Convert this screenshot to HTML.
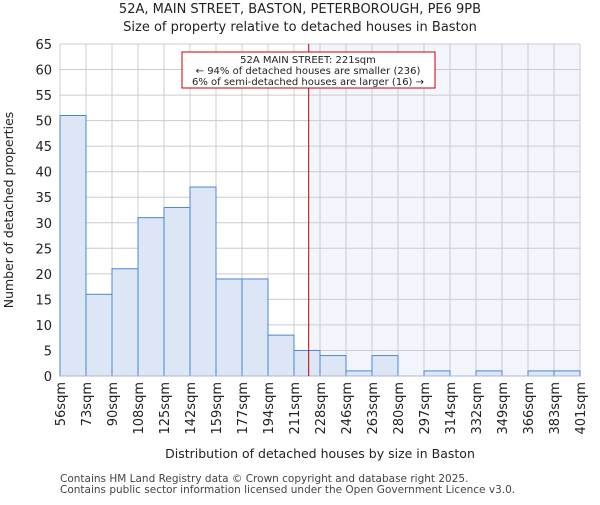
<!DOCTYPE html>
<html><head><meta charset="utf-8"><style>body{margin:0;background:#fff}svg{font-family:"DejaVu Sans","Liberation Sans",sans-serif}</style></head>
<body>
<svg width="600" height="500" xmlns="http://www.w3.org/2000/svg">
<g id="g"></g>
</svg>
<script>
const values=[51,16,21,31,33,37,19,19,8,5,4,1,4,0,1,0,1,0,1,1];
const xLabels=["56sqm","73sqm","90sqm","108sqm","125sqm","142sqm","159sqm","177sqm","194sqm","211sqm","228sqm","246sqm","263sqm","280sqm","297sqm","314sqm","332sqm","349sqm","366sqm","383sqm","401sqm"];
const yTicks=[0,5,10,15,20,25,30,35,40,45,50,55,60,65];
const minX=56,maxX=401,propX=221;
const L=60,R=580,T=44,B=376,yMax=65;
const NS="http://www.w3.org/2000/svg";
const g=document.getElementById('g');
const bw=(R-L)/values.length;
const ys=v=>B-v*(B-T)/yMax;
const xs=v=>L+(v-minX)/(maxX-minX)*(R-L);
function mk(t,a,p){const e=document.createElementNS(NS,t);for(const k in a)e.setAttribute(k,a[k]);(p||g).appendChild(e);return e;}
const px=xs(propX);
let sh=mk('rect',{x:px,y:T,width:R-px,height:B-T,fill:'#f3f5fc'});


yTicks.forEach(t=>{let l=mk('line',{x1:L,x2:R,y1:ys(t),y2:ys(t),stroke:'#cccccc'});


let tx=mk('text',{x:L-8,y:ys(t)+5,'text-anchor':'end','font-size':13,fill:'#222'});tx.textContent=t;

});
xLabels.forEach((s,i)=>{const x=L+i*bw;let l=mk('line',{x1:x,x2:x,y1:T,y2:B,stroke:'#cccccc'});


let tx=mk('text',{x:0,y:0,'text-anchor':'end','font-size':13,fill:'#222',transform:`translate(${x+5},382) rotate(-90)`});tx.textContent=s;

});
values.forEach((v,i)=>{if(v<=0)return;let r=mk('rect',{x:L+i*bw,y:ys(v),width:bw,height:B-ys(v),fill:'#dce6f4',stroke:'#4a86d8','stroke-width':1});

});
let ax=mk('line',{x1:L,x2:R,y1:B,y2:B,stroke:'#aab8cc'});


let rl=mk('line',{x1:px,x2:px,y1:T,y2:B,stroke:'#bb0000','stroke-width':1});


let box=mk('rect',{x:182,y:52,width:253,height:36,fill:'#fff',stroke:'#cc0000'});


["52A MAIN STREET: 221sqm","← 94% of detached houses are smaller (236)","6% of semi-detached houses are larger (16) →"].forEach((s,i)=>{let t=mk('text',{x:308,y:63+i*11,'text-anchor':'middle','font-size':10,fill:'#222'});t.textContent=s;

});
function txt(s,a,n){let t=mk('text',a);t.textContent=s;

}
txt("52A, MAIN STREET, BASTON, PETERBOROUGH, PE6 9PB",{x:300,y:13,'text-anchor':'middle','font-size':13,fill:'#222'},'chart-title');
txt("Size of property relative to detached houses in Baston",{x:300,y:31,'text-anchor':'middle','font-size':13,fill:'#222'},'chart-subtitle');
txt("Distribution of detached houses by size in Baston",{x:320,y:458,'text-anchor':'middle','font-size':12.5,fill:'#222'},'x-axis-title');
txt("Number of detached properties",{x:0,y:0,'text-anchor':'middle','font-size':12.5,fill:'#222',transform:'translate(13,210) rotate(-90)'},'y-axis-title');
txt("Contains HM Land Registry data © Crown copyright and database right 2025.",{x:60,y:482,'font-size':10.5,fill:'#444'},'footer-line-1');
txt("Contains public sector information licensed under the Open Government Licence v3.0.",{x:60,y:493,'font-size':10.5,fill:'#444'},'footer-line-2');
</script>
</body></html>
